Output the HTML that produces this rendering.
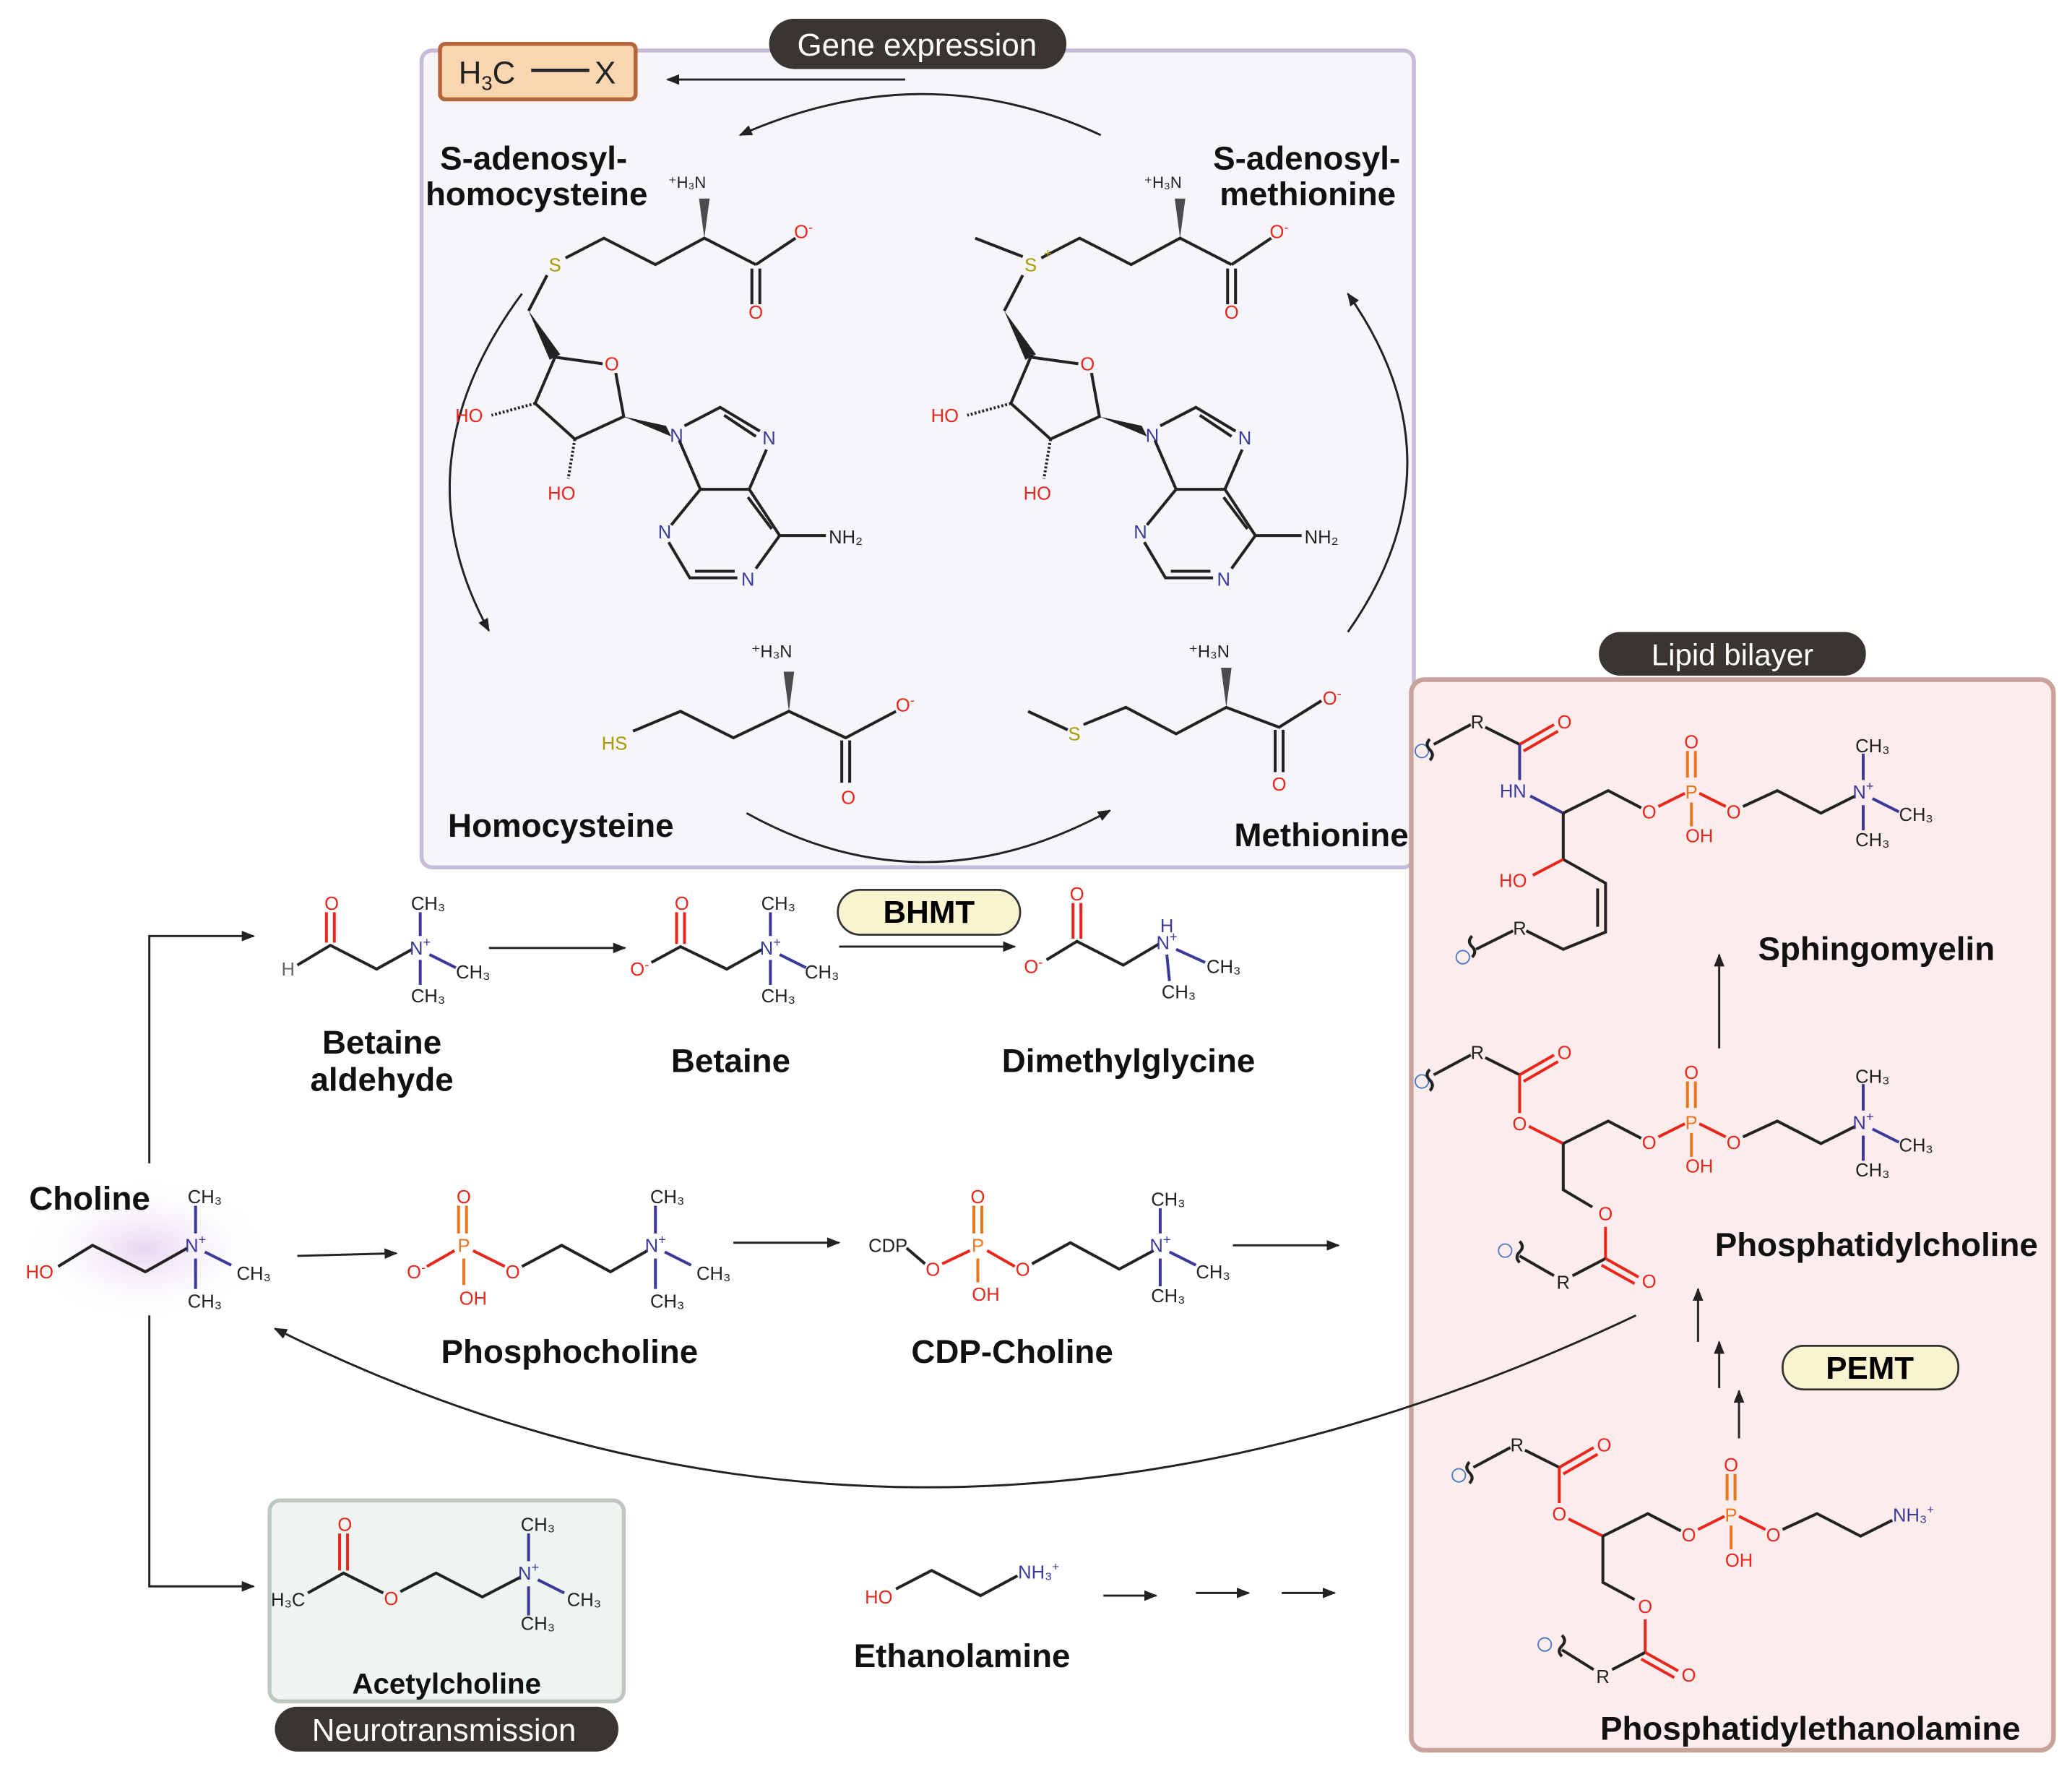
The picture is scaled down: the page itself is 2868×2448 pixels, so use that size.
<!DOCTYPE html>
<html><head><meta charset="utf-8"><style>
html,body{margin:0;padding:0;background:#fff}
svg{display:block}
text{font-family:"Liberation Sans",sans-serif}
.b{stroke:#222;stroke-width:2.2;fill:none}
.r{stroke:#e8261c;stroke-width:2.2;fill:none}
.n{stroke:#3b3a9a;stroke-width:2.2;fill:none}
.p{stroke:#e8761c;stroke-width:2.2;fill:none}
.ar{stroke:#222;stroke-width:1.6;fill:none;marker-end:url(#ah)}
.at{font-size:14px;text-anchor:middle}
.O{fill:#e8261c}.N{fill:#3b3a9a}.S{fill:#a89a00}.P{fill:#e8761c}.K{fill:#222}
.lb{font-size:25px;font-weight:bold;fill:#111}
.pill{fill:#3a3530}
.pt{font-size:24px;fill:#fff;text-anchor:middle}
</style></head><body>
<svg width="2868" height="2448" viewBox="0 0 1568 1338" xmlns="http://www.w3.org/2000/svg">
<defs>
<marker id="ah" markerWidth="10" markerHeight="8" refX="9" refY="4" orient="auto" markerUnits="userSpaceOnUse"><path d="M0,0 L10,4 L0,8 Z" fill="#222"/></marker>
<radialGradient id="glow"><stop offset="0" stop-color="#e6d6f0"/><stop offset="1" stop-color="#fff" stop-opacity="0"/></radialGradient>
</defs>

<rect x="319" y="38" width="751" height="618" rx="8" fill="#f5f5fa" stroke="#c6bcda" stroke-width="3"/>
<rect x="1068" y="514" width="486" height="810" rx="10" fill="#fcecec" stroke="#c9a39b" stroke-width="3.5"/>
<rect x="204" y="1135" width="268" height="152" rx="8" fill="#eef4ef" stroke="#bfc8c0" stroke-width="3"/>
<rect x="582" y="14" width="225" height="38" rx="19" class="pill"/>
<text x="694" y="42" class="pt">Gene expression</text>
<rect x="1210" y="478" width="202" height="33" rx="16" class="pill"/>
<text x="1311" y="503" class="pt" style="font-size:23px">Lipid bilayer</text>
<rect x="208" y="1291" width="260" height="34" rx="17" class="pill"/>
<text x="336" y="1317" class="pt">Neurotransmission</text>
<rect x="333" y="33" width="148" height="42" rx="4" fill="#f9d5b0" stroke="#b5653a" stroke-width="3"/>
<text x="347" y="63" style="font-size:24px;fill:#222">H<tspan style="font-size:15px" dy="5">3</tspan><tspan dy="-5">C</tspan></text>
<line x1="402" y1="53" x2="446" y2="53" stroke="#222" stroke-width="2.5"/>
<text x="450" y="63" style="font-size:24px;fill:#222">X</text>
<rect x="634" y="673" width="138" height="34" rx="17" fill="#faf3cf" stroke="#333" stroke-width="1.5"/>
<text x="703" y="698" style="font-size:24px;font-weight:bold;text-anchor:middle">BHMT</text>
<rect x="1349" y="1018" width="133" height="33" rx="16" fill="#faf3cf" stroke="#333" stroke-width="1.5"/>
<text x="1415" y="1043" style="font-size:24px;font-weight:bold;text-anchor:middle">PEMT</text>

<line x1="685" y1="60" x2="505" y2="60" class="ar"/>
<path d="M833,102 Q700,40 560,102" class="ar"/>
<path d="M395,222 Q300,350 370,477" class="ar"/>
<path d="M565,615 Q700,690 840,613" class="ar"/>
<path d="M1020,478 Q1110,350 1020,222" class="ar"/>

<text x="333" y="128" class="lb">S-adenosyl-</text>
<text x="322" y="155" class="lb">homocysteine</text>
<text x="918" y="128" class="lb">S-adenosyl-</text>
<text x="923" y="155" class="lb">methionine</text>
<text x="339" y="633" class="lb">Homocysteine</text>
<text x="934" y="640" class="lb">Methionine</text>

<g id="sah">
<polyline class="b" points="428,195 457,180 496,200 533,180 572,200"/>
<polyline class="b" points="572,200 602,180"/>
<line class="b" x1="569" y1="203" x2="569" y2="230"/><line class="b" x1="575" y1="203" x2="575" y2="230"/>
<path d="M533,180 L529,150 L537,150 Z" fill="#222" opacity="0.8"/>
<text x="520" y="142" class="at K" style="font-size:12px">⁺H₃N</text>
<text x="608" y="180" class="at O">O<tspan font-size="10" dy="-5">-</tspan></text>
<text x="572" y="241" class="at O">O</text>
<text x="420" y="205" class="at S">S</text>
<line class="b" x1="414" y1="208" x2="400" y2="235"/>
<path d="M400,235 L416,272 L424,268 Z" fill="#222"/>
<polyline class="b" points="420,270 456,275"/>
<polyline class="b" points="466,282 472,315 435,332 405,305 420,270"/>
<path d="M472,315 L508,330 L504,322 Z" fill="#222"/>
<text x="463" y="280" class="at O">O</text>
<line class="b" x1="405" y1="305" x2="372" y2="314" stroke-dasharray="1.5,1.5" stroke-width="5"/>
<text x="355" y="319" class="at O">HO</text>
<line class="b" x1="435" y1="332" x2="430" y2="362" stroke-dasharray="1.5,1.5" stroke-width="5"/>
<text x="425" y="378" class="at O">HO</text>
<text x="512" y="334" class="at N">N</text>
<polyline class="b" points="518,322 545,308 575,326"/>
<line class="b" x1="548" y1="314" x2="572" y2="330"/>
<text x="582" y="336" class="at N">N</text>
<polyline class="b" points="580,340 567,370 530,370 514,333"/>
<polyline class="b" points="530,370 508,397"/>
<text x="503" y="407" class="at N">N</text>
<polyline class="b" points="506,410 522,437 558,437"/>
<line class="b" x1="526" y1="432" x2="556" y2="432"/>
<text x="566" y="443" class="at N">N</text>
<polyline class="b" points="572,430 590,405 567,370"/>
<line class="b" x1="584" y1="400" x2="566" y2="376"/>
<line class="b" x1="590" y1="405" x2="625" y2="405"/>
<text x="640" y="411" class="at K">NH₂</text>
</g>
<use href="#sah" x="360" y="0"/>
<line class="b" x1="774" y1="194" x2="738" y2="180"/>
<text x="790" y="195" class="S" style="font-size:10px">+</text>

<text x="465" y="567" class="at S">HS</text>
<polyline class="b" points="479,553 515,538 555,558 597,538 640,558 678,538"/>
<path d="M597,538 L593,508 L601,508 Z" fill="#222" opacity="0.8"/>
<text x="584" y="497" class="at K" style="font-size:13px">⁺H₃N</text>
<text x="685" y="538" class="at O">O<tspan font-size="10" dy="-5">-</tspan></text>
<line class="b" x1="637" y1="560" x2="637" y2="592"/><line class="b" x1="643" y1="560" x2="643" y2="592"/>
<text x="642" y="608" class="at O">O</text>
<polyline class="b" points="778,538 808,552"/>
<text x="813" y="560" class="at S">S</text>
<polyline class="b" points="820,548 852,535 890,555 928,535 968,550 1000,530"/>
<path d="M928,535 L924,505 L932,505 Z" fill="#222" opacity="0.8"/>
<text x="915" y="497" class="at K" style="font-size:13px">⁺H₃N</text>
<text x="1008" y="533" class="at O">O<tspan font-size="10" dy="-5">-</tspan></text>
<line class="b" x1="965" y1="552" x2="965" y2="584"/><line class="b" x1="971" y1="552" x2="971" y2="584"/>
<text x="968" y="598" class="at O">O</text>

<text x="218" y="738" class="at K" style="fill:#666">H</text>
<polyline class="b" points="225,730 250,715 285,733 312,718"/>
<line class="r" x1="247" y1="713" x2="247" y2="690"/><line class="r" x1="253" y1="713" x2="253" y2="690"/>
<text x="251" y="688" class="at O">O</text>
<text x="318" y="722" class="at N">N<tspan font-size="10" dy="-6">+</tspan></text>
<line class="n" x1="318" y1="708" x2="318" y2="690"/><line class="n" x1="325" y1="722" x2="345" y2="732"/><line class="n" x1="318" y1="726" x2="318" y2="745"/>
<text x="324" y="688" class="at K">CH₃</text><text x="358" y="740" class="at K">CH₃</text><text x="324" y="758" class="at K">CH₃</text>
<text x="289" y="797" class="lb" text-anchor="middle">Betaine</text>
<text x="289" y="825" class="lb" text-anchor="middle">aldehyde</text>
<line x1="370" y1="717" x2="473" y2="717" class="ar"/>

<text x="484" y="738" class="at O">O<tspan font-size="10" dy="-5">-</tspan></text>
<polyline class="b" points="493,728 515,716 550,733 577,718"/>
<line class="r" x1="512" y1="714" x2="512" y2="690"/><line class="r" x1="518" y1="714" x2="518" y2="690"/>
<text x="516" y="688" class="at O">O</text>
<text x="583" y="722" class="at N">N<tspan font-size="10" dy="-6">+</tspan></text>
<line class="n" x1="583" y1="708" x2="583" y2="690"/><line class="n" x1="590" y1="722" x2="610" y2="732"/><line class="n" x1="583" y1="726" x2="583" y2="745"/>
<text x="589" y="688" class="at K">CH₃</text><text x="622" y="740" class="at K">CH₃</text><text x="589" y="758" class="at K">CH₃</text>
<text x="553" y="811" class="lb" text-anchor="middle">Betaine</text>
<line x1="635" y1="716" x2="768" y2="716" class="ar"/>

<text x="782" y="736" class="at O">O<tspan font-size="10" dy="-5">-</tspan></text>
<polyline class="b" points="792,726 815,712 850,730 877,714"/>
<line class="r" x1="812" y1="710" x2="812" y2="683"/><line class="r" x1="818" y1="710" x2="818" y2="683"/>
<text x="815" y="681" class="at O">O</text>
<text x="883" y="718" class="at N">N<tspan font-size="10" dy="-6">+</tspan></text>
<text x="883" y="705" class="at N">H</text>
<line class="n" x1="890" y1="718" x2="912" y2="728"/><line class="n" x1="883" y1="722" x2="885" y2="742"/>
<text x="926" y="736" class="at K">CH₃</text><text x="892" y="755" class="at K">CH₃</text>
<text x="854" y="811" class="lb" text-anchor="middle">Dimethylglycine</text>

<ellipse cx="110" cy="945" rx="95" ry="55" fill="url(#glow)"/>
<text x="22" y="915" class="lb">Choline</text>
<text x="30" y="967" class="at O">HO</text>
<polyline class="b" points="44,958 70,942 110,962 142,944"/>
<text x="148" y="947" class="at N">N<tspan font-size="10" dy="-6">+</tspan></text>
<line class="n" x1="148" y1="933" x2="148" y2="912"/><line class="n" x1="155" y1="947" x2="175" y2="957"/><line class="n" x1="148" y1="952" x2="148" y2="975"/>
<text x="155" y="910" class="at K">CH₃</text><text x="192" y="968" class="at K">CH₃</text><text x="155" y="989" class="at K">CH₃</text>
<polyline points="113,880 113,708 192,708" class="ar"/>
<polyline points="113,995 113,1200 192,1200" class="ar"/>
<line x1="225" y1="950" x2="300" y2="948" class="ar"/>
<path d="M1238,995 Q700,1250 208,1005" class="ar"/>

<text x="315" y="967" class="at O">O<tspan font-size="10" dy="-5">-</tspan></text>
<line class="r" x1="323" y1="958" x2="344" y2="946"/>
<text x="351" y="947" class="at P">P</text>
<line class="p" x1="347" y1="933" x2="347" y2="912"/><line class="p" x1="353" y1="933" x2="353" y2="912"/>
<text x="351" y="910" class="at O">O</text>
<line class="p" x1="351" y1="952" x2="351" y2="972"/>
<text x="358" y="987" class="at O">OH</text>
<line class="r" x1="358" y1="946" x2="382" y2="958"/>
<text x="388" y="967" class="at O">O</text>
<polyline class="b" points="395,958 425,942 462,962 490,946"/>
<text x="496" y="947" class="at N">N<tspan font-size="10" dy="-6">+</tspan></text>
<line class="n" x1="496" y1="933" x2="496" y2="912"/><line class="n" x1="503" y1="947" x2="523" y2="957"/><line class="n" x1="496" y1="952" x2="496" y2="975"/>
<text x="505" y="910" class="at K">CH₃</text><text x="540" y="968" class="at K">CH₃</text><text x="505" y="989" class="at K">CH₃</text>
<text x="431" y="1031" class="lb" text-anchor="middle">Phosphocholine</text>
<line x1="555" y1="940" x2="635" y2="940" class="ar"/>

<text x="672" y="947" class="at K">CDP</text>
<line class="b" x1="686" y1="944" x2="700" y2="956"/>
<text x="706" y="965" class="at O">O</text>
<line class="r" x1="713" y1="956" x2="734" y2="946"/>
<text x="740" y="947" class="at P">P</text>
<line class="p" x1="737" y1="933" x2="737" y2="912"/><line class="p" x1="743" y1="933" x2="743" y2="912"/>
<text x="740" y="910" class="at O">O</text>
<line class="p" x1="740" y1="952" x2="740" y2="970"/>
<text x="746" y="984" class="at O">OH</text>
<line class="r" x1="747" y1="946" x2="768" y2="958"/>
<text x="774" y="965" class="at O">O</text>
<polyline class="b" points="781,956 810,940 847,960 873,946"/>
<text x="878" y="947" class="at N">N<tspan font-size="10" dy="-6">+</tspan></text>
<line class="n" x1="878" y1="933" x2="878" y2="914"/><line class="n" x1="885" y1="947" x2="905" y2="957"/><line class="n" x1="878" y1="952" x2="878" y2="973"/>
<text x="884" y="912" class="at K">CH₃</text><text x="918" y="967" class="at K">CH₃</text><text x="884" y="985" class="at K">CH₃</text>
<text x="766" y="1031" class="lb" text-anchor="middle">CDP-Choline</text>
<line x1="933" y1="942" x2="1013" y2="942" class="ar"/>

<text x="218" y="1215" class="at K">H₃C</text>
<polyline class="b" points="233,1205 260,1190 290,1205"/>
<line class="r" x1="257" y1="1188" x2="257" y2="1160"/><line class="r" x1="263" y1="1188" x2="263" y2="1160"/>
<text x="261" y="1158" class="at O">O</text>
<text x="296" y="1214" class="at O">O</text>
<polyline class="b" points="303,1204 330,1190 365,1208 394,1193"/>
<text x="400" y="1195" class="at N">N<tspan font-size="10" dy="-6">+</tspan></text>
<line class="n" x1="400" y1="1181" x2="400" y2="1160"/><line class="n" x1="407" y1="1195" x2="427" y2="1205"/><line class="n" x1="400" y1="1200" x2="400" y2="1222"/>
<text x="407" y="1158" class="at K">CH₃</text><text x="442" y="1215" class="at K">CH₃</text><text x="407" y="1233" class="at K">CH₃</text>
<text x="338" y="1281" class="lb" text-anchor="middle" style="font-size:22px">Acetylcholine</text>

<text x="665" y="1213" class="at O">HO</text>
<polyline class="b" points="678,1202 705,1188 742,1207 770,1192"/>
<text x="786" y="1194" class="at N">NH₃<tspan font-size="9" dy="-6">+</tspan></text>
<text x="728" y="1261" class="lb" text-anchor="middle">Ethanolamine</text>
<line x1="835" y1="1207" x2="875" y2="1207" class="ar"/>
<line x1="905" y1="1205" x2="945" y2="1205" class="ar"/>
<line x1="970" y1="1205" x2="1010" y2="1205" class="ar"/>

<g>
<circle cx="1076" cy="568" r="5" fill="none" stroke="#4a78c8" stroke-width="1"/>
<path d="M1082,575 q4,-4 0,-8 q-4,-4 0,-8" class="b" stroke-width="1.8"/>
<polyline class="b" points="1085,563 1113,548"/>
<text x="1118" y="551" class="at K">R</text>
<polyline class="b" points="1124,550 1150,563"/>
<line class="r" x1="1150" y1="563" x2="1176" y2="548"/><line class="r" x1="1153" y1="568" x2="1179" y2="553"/>
<text x="1184" y="551" class="at O">O</text>
<line class="n" x1="1150" y1="563" x2="1150" y2="590"/>
<text x="1145" y="603" class="at N">HN</text>
<line class="n" x1="1158" y1="602" x2="1183" y2="615"/>
<polyline class="b" points="1183,615 1217,598 1242,611"/>
<text x="1248" y="619" class="at O">O</text>
<line class="r" x1="1255" y1="610" x2="1275" y2="600"/>
<text x="1280" y="604" class="at P">P</text>
<line class="p" x1="1277" y1="588" x2="1277" y2="568"/><line class="p" x1="1283" y1="588" x2="1283" y2="568"/>
<text x="1280" y="566" class="at O">O</text>
<line class="p" x1="1280" y1="607" x2="1280" y2="625"/>
<text x="1286" y="637" class="at O">OH</text>
<line class="r" x1="1286" y1="600" x2="1306" y2="610"/>
<text x="1312" y="619" class="at O">O</text>
<polyline class="b" points="1319,610 1345,598 1378,615 1404,602"/>
<text x="1410" y="604" class="at N">N<tspan font-size="10" dy="-6">+</tspan></text>
<line class="n" x1="1410" y1="590" x2="1410" y2="570"/><line class="n" x1="1417" y1="604" x2="1437" y2="614"/><line class="n" x1="1410" y1="609" x2="1410" y2="628"/>
<text x="1417" y="569" class="at K">CH₃</text><text x="1450" y="621" class="at K">CH₃</text><text x="1417" y="640" class="at K">CH₃</text>
<polyline class="b" points="1183,615 1183,650 1215,668 1215,705 1183,718 1155,704"/>
<line class="b" x1="1209" y1="672" x2="1209" y2="701"/>
<line class="r" x1="1183" y1="650" x2="1160" y2="662"/>
<text x="1145" y="671" class="at O">HO</text>
<text x="1150" y="707" class="at K">R</text>
<polyline class="b" points="1145,704 1117,718"/>
<path d="M1114,724 q4,-4 0,-8 q-4,-4 0,-8" class="b" stroke-width="1.8"/>
<circle cx="1107" cy="724" r="5" fill="none" stroke="#4a78c8" stroke-width="1"/>
</g>
<text x="1420" y="726" class="lb" text-anchor="middle">Sphingomyelin</text>
<line x1="1301" y1="793" x2="1301" y2="722" class="ar"/>

<g>
<circle cx="1076" cy="818" r="5" fill="none" stroke="#4a78c8" stroke-width="1"/>
<path d="M1082,825 q4,-4 0,-8 q-4,-4 0,-8" class="b" stroke-width="1.8"/>
<polyline class="b" points="1085,813 1113,798"/>
<text x="1118" y="801" class="at K">R</text>
<polyline class="b" points="1124,800 1150,813"/>
<line class="r" x1="1150" y1="813" x2="1176" y2="798"/><line class="r" x1="1153" y1="818" x2="1179" y2="803"/>
<text x="1184" y="801" class="at O">O</text>
<line class="r" x1="1150" y1="813" x2="1150" y2="842"/>
<text x="1150" y="855" class="at O">O</text>
<line class="r" x1="1157" y1="852" x2="1183" y2="865"/>
<polyline class="b" points="1183,865 1217,848 1242,861"/>
<text x="1248" y="869" class="at O">O</text>
<line class="r" x1="1255" y1="860" x2="1275" y2="850"/>
<text x="1280" y="854" class="at P">P</text>
<line class="p" x1="1277" y1="838" x2="1277" y2="818"/><line class="p" x1="1283" y1="838" x2="1283" y2="818"/>
<text x="1280" y="816" class="at O">O</text>
<line class="p" x1="1280" y1="857" x2="1280" y2="875"/>
<text x="1286" y="887" class="at O">OH</text>
<line class="r" x1="1286" y1="850" x2="1306" y2="860"/>
<text x="1312" y="869" class="at O">O</text>
<polyline class="b" points="1319,860 1345,848 1378,865 1404,852"/>
<text x="1410" y="854" class="at N">N<tspan font-size="10" dy="-6">+</tspan></text>
<line class="n" x1="1410" y1="840" x2="1410" y2="820"/><line class="n" x1="1417" y1="854" x2="1437" y2="864"/><line class="n" x1="1410" y1="859" x2="1410" y2="878"/>
<text x="1417" y="819" class="at K">CH₃</text><text x="1450" y="871" class="at K">CH₃</text><text x="1417" y="890" class="at K">CH₃</text>
<polyline class="b" points="1183,865 1183,900 1205,913"/>
<text x="1215" y="923" class="at O">O</text>
<line class="r" x1="1215" y1="928" x2="1215" y2="952"/>
<line class="b" x1="1215" y1="952" x2="1190" y2="965"/>
<line class="r" x1="1215" y1="952" x2="1240" y2="966"/><line class="r" x1="1212" y1="957" x2="1237" y2="971"/>
<text x="1248" y="974" class="at O">O</text>
<text x="1183" y="975" class="at K">R</text>
<polyline class="b" points="1176,965 1150,950"/>
<path d="M1150,955 q-4,-4 0,-8 q4,-4 0,-8" class="b" stroke-width="1.8"/>
<circle cx="1139" cy="946" r="5" fill="none" stroke="#4a78c8" stroke-width="1"/>
</g>
<text x="1420" y="950" class="lb" text-anchor="middle">Phosphatidylcholine</text>
<line x1="1285" y1="1015" x2="1285" y2="975" class="ar"/>
<line x1="1301" y1="1050" x2="1301" y2="1015" class="ar"/>
<line x1="1316" y1="1088" x2="1316" y2="1052" class="ar"/>

<g>
<circle cx="1104" cy="1116" r="5" fill="none" stroke="#4a78c8" stroke-width="1"/>
<path d="M1112,1122 q4,-4 0,-8 q-4,-4 0,-8" class="b" stroke-width="1.8"/>
<polyline class="b" points="1115,1110 1143,1095"/>
<text x="1148" y="1098" class="at K">R</text>
<polyline class="b" points="1154,1097 1180,1110"/>
<line class="r" x1="1180" y1="1110" x2="1206" y2="1095"/><line class="r" x1="1183" y1="1115" x2="1209" y2="1100"/>
<text x="1214" y="1098" class="at O">O</text>
<line class="r" x1="1180" y1="1110" x2="1180" y2="1137"/>
<text x="1180" y="1150" class="at O">O</text>
<line class="r" x1="1187" y1="1149" x2="1213" y2="1162"/>
<polyline class="b" points="1213,1162 1247,1145 1272,1158"/>
<text x="1278" y="1166" class="at O">O</text>
<line class="r" x1="1285" y1="1157" x2="1305" y2="1147"/>
<text x="1310" y="1151" class="at P">P</text>
<line class="p" x1="1307" y1="1135" x2="1307" y2="1115"/><line class="p" x1="1313" y1="1135" x2="1313" y2="1115"/>
<text x="1310" y="1113" class="at O">O</text>
<line class="p" x1="1310" y1="1154" x2="1310" y2="1172"/>
<text x="1316" y="1185" class="at O">OH</text>
<line class="r" x1="1316" y1="1147" x2="1336" y2="1157"/>
<text x="1342" y="1166" class="at O">O</text>
<polyline class="b" points="1349,1157 1375,1145 1408,1162 1432,1150"/>
<text x="1448" y="1151" class="at N">NH₃<tspan font-size="9" dy="-6">+</tspan></text>
<polyline class="b" points="1213,1162 1213,1197 1237,1210"/>
<text x="1245" y="1220" class="at O">O</text>
<line class="r" x1="1245" y1="1225" x2="1245" y2="1250"/>
<line class="b" x1="1245" y1="1250" x2="1220" y2="1263"/>
<line class="r" x1="1245" y1="1250" x2="1270" y2="1264"/><line class="r" x1="1242" y1="1255" x2="1267" y2="1269"/>
<text x="1278" y="1272" class="at O">O</text>
<text x="1213" y="1273" class="at K">R</text>
<polyline class="b" points="1206,1263 1182,1248"/>
<path d="M1182,1253 q-4,-4 0,-8 q4,-4 0,-8" class="b" stroke-width="1.8"/>
<circle cx="1169" cy="1244" r="5" fill="none" stroke="#4a78c8" stroke-width="1"/>
</g>
<text x="1370" y="1316" class="lb" text-anchor="middle">Phosphatidylethanolamine</text>
</svg>
</body></html>
